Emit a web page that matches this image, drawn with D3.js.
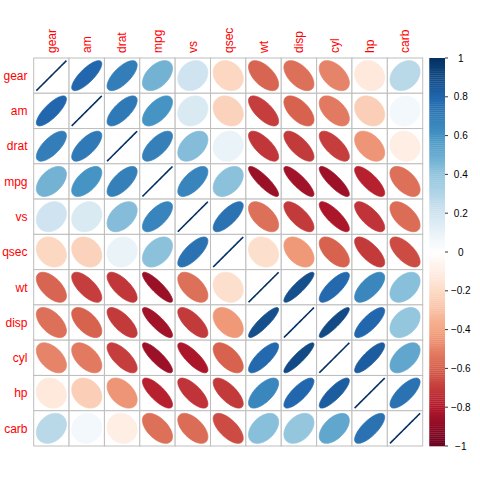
<!DOCTYPE html>
<html><head><meta charset="utf-8">
<script src="https://cdn.jsdelivr.net/npm/d3@7"></script>
<style>body{margin:0;background:#fff}svg{display:block}</style>
</head><body>
<svg id="c" width="480" height="480"></svg>
<script>
const vars = ["gear","am","drat","mpg","vs","qsec","wt","disp","cyl","hp","carb"];
// correlation matrix rows (same order as vars)
const corrGear = [1.000, 0.794, 0.700, 0.480, 0.206, -0.213, -0.583, -0.556, -0.493, -0.126, 0.274];
const corrAm   = [0.794, 1.000, 0.713, 0.600, 0.168, -0.230, -0.692, -0.591, -0.523, -0.243, 0.058];
const corrDrat = [0.700, 0.713, 1.000, 0.681, 0.440, 0.091, -0.712, -0.710, -0.700, -0.449, -0.091];
const corrMpg  = [0.480, 0.600, 0.681, 1.000, 0.664, 0.419, -0.868, -0.848, -0.852, -0.776, -0.551];
const corrVs   = [0.206, 0.168, 0.440, 0.664, 1.000, 0.745, -0.555, -0.710, -0.811, -0.723, -0.570];
const corrQsec = [-0.213, -0.230, 0.091, 0.419, 0.745, 1.000, -0.175, -0.434, -0.591, -0.708, -0.656];
const corrWt   = [-0.583, -0.692, -0.712, -0.868, -0.555, -0.175, 1.000, 0.888, 0.782, 0.659, 0.428];
const corrDisp = [-0.556, -0.591, -0.710, -0.848, -0.710, -0.434, 0.888, 1.000, 0.902, 0.791, 0.395];
const corrCyl  = [-0.493, -0.523, -0.700, -0.852, -0.811, -0.591, 0.782, 0.902, 1.000, 0.832, 0.527];
const corrHp   = [-0.126, -0.243, -0.449, -0.776, -0.723, -0.708, 0.659, 0.791, 0.832, 1.000, 0.750];
const corrCarb = [0.274, 0.058, -0.091, -0.551, -0.570, -0.656, 0.428, 0.395, 0.527, 0.750, 1.000];
const corrRows = [corrGear, corrAm, corrDrat, corrMpg, corrVs, corrQsec, corrWt, corrDisp, corrCyl, corrHp, corrCarb];
const legendTicks = [1, 0.8, 0.6, 0.4, 0.2, 0, -0.2, -0.4, -0.6, -0.8, -1];
const paletteStops = ["#67001F","#B2182B","#D6604D","#F4A582","#FDDBC7","#FFFFFF","#D1E5F0","#92C5DE","#4393C3","#2166AC","#053061"];

const svg = d3.select("#c");
const L = 33.7, R = 422.7, T = 58, B = 446;
const x = d3.scaleBand().domain(vars).range([L, R]).padding(0);
const y = d3.scaleBand().domain(vars).range([T, B]).padding(0);
const ramp = d3.scaleLinear().domain(d3.range(11).map(i => -1 + i * 0.2)).range(paletteStops).interpolate(d3.interpolateRgb);
const NC = 200;
const pal = d3.range(NC).map(i => ramp(-1 + (i + 0.5) * 2 / NC));
function colorOf(r) { let k = Math.ceil((r + 1) * NC / 2) - 1; k = Math.max(0, Math.min(NC - 1, k)); return pal[k]; }

const cells = [];
corrRows.forEach((row, i) => row.forEach((r, j) => cells.push({row: vars[i], col: vars[j], r})));

// grid
svg.append("g").selectAll("rect").data(cells).join("rect")
  .attr("x", d => x(d.col)).attr("y", d => y(d.row))
  .attr("width", x.bandwidth()).attr("height", y.bandwidth())
  .attr("fill", "#fff").attr("stroke", "#bebebe").attr("stroke-width", 1);

function ellPath(r, cx, cy, w, h) {
  const d = Math.acos(Math.max(-1, Math.min(1, r)));
  const pts = d3.range(99).map(i => {
    const k = i * 2 * Math.PI / 98;
    return [cx + 0.85 * Math.cos(k + d / 2) / 2 * w, cy - 0.85 * Math.cos(k - d / 2) / 2 * h];
  });
  return d3.line()(pts) + "Z";
}
svg.append("g").selectAll("path").data(cells).join("path")
  .attr("d", d => ellPath(d.r, x(d.col) + x.bandwidth() / 2, y(d.row) + y.bandwidth() / 2, x.bandwidth(), y.bandwidth()))
  .attr("fill", d => colorOf(d.r))
  .attr("stroke", d => colorOf(d.r))
  .attr("stroke-width", d => d.r >= 0.999 ? 1.6 : 0.8);

// labels
svg.append("g").selectAll("text").data(vars).join("text")
  .attr("transform", d => `translate(${x(d) + x.bandwidth() / 2 + 4.3},53) rotate(-90)`)
  .attr("text-anchor", "start")
  .attr("font-family", "Liberation Sans, Arial, sans-serif").attr("font-size", 12)
  .attr("fill", "#FF0000").text(d => d);
svg.append("g").selectAll("text").data(vars).join("text")
  .attr("x", 27.5).attr("y", d => y(d) + y.bandwidth() / 2 + 4.3)
  .attr("text-anchor", "end")
  .attr("font-family", "Liberation Sans, Arial, sans-serif").attr("font-size", 12)
  .attr("fill", "#FF0000").text(d => d);

// colour legend
const ly = d3.scaleLinear().domain([-1, 1]).range([B, T]);
const lx0 = 429.3, lx1 = 445;
svg.append("g").selectAll("rect").data(pal).join("rect")
  .attr("x", lx0).attr("width", lx1 - lx0)
  .attr("y", (c, i) => ly(-1 + (i + 1) * 2 / NC))
  .attr("height", (c, i) => ly(-1 + i * 2 / NC) - ly(-1 + (i + 1) * 2 / NC) + 0.3)
  .attr("fill", c => c);
const lg = svg.append("g");
lg.selectAll("line").data(legendTicks).join("line")
  .attr("x1", lx1).attr("x2", lx1 + 3).attr("y1", d => ly(d)).attr("y2", d => ly(d))
  .attr("stroke", "#000").attr("stroke-width", 0.8);
lg.selectAll("text").data(legendTicks).join("text")
  .attr("x", 460.8).attr("y", d => ly(d) + 3.6)
  .attr("text-anchor", "middle")
  .attr("font-family", "Liberation Sans, Arial, sans-serif").attr("font-size", 10)
  .attr("fill", "#000").text(d => d3.format("")(d));
</script>
</body></html>
